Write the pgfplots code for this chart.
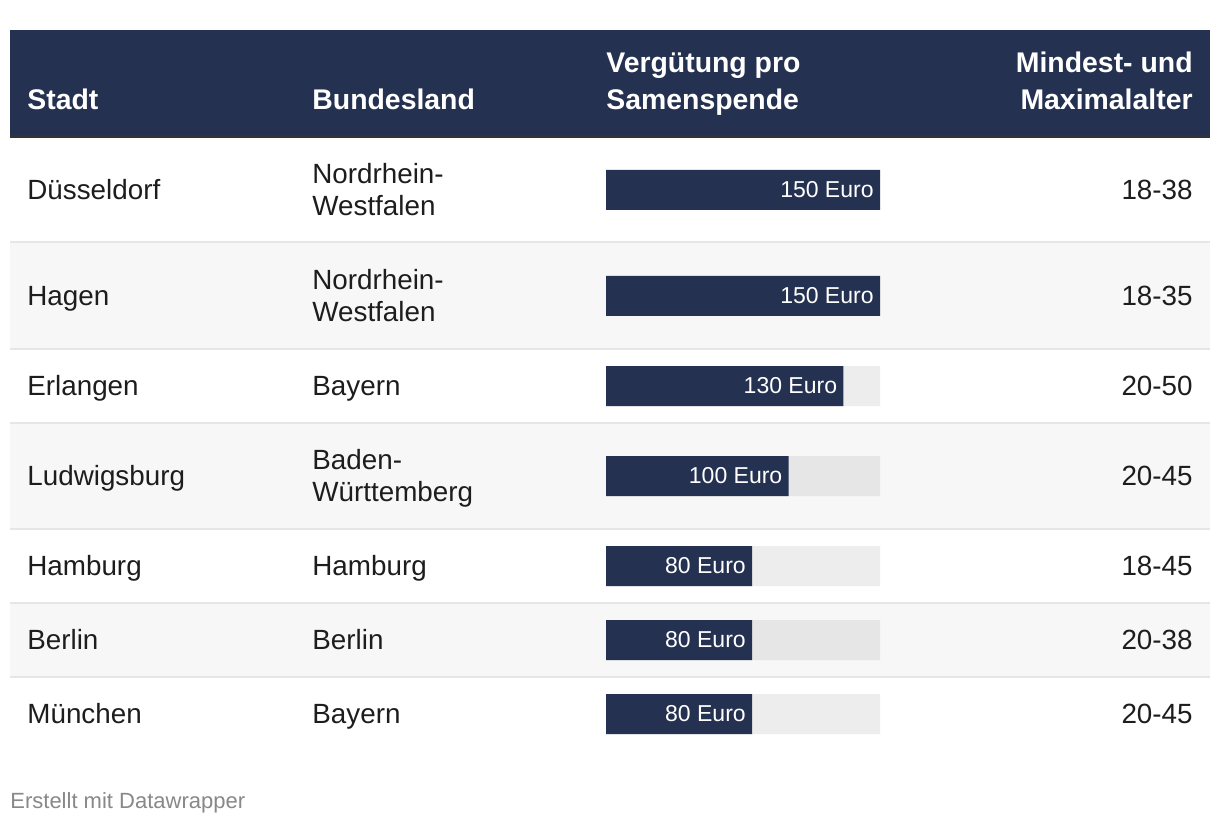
\documentclass[border=0pt]{standalone}
\usepackage{pgfplots}
\pgfplotsset{compat=1.18}
\usepackage{fontspec}
\setmainfont{Liberation Sans}
\definecolor{navy}{HTML}{243150}
\definecolor{sep}{HTML}{E6E6E6}
\definecolor{rowbg}{HTML}{F7F7F7}
\definecolor{trackw}{HTML}{EDEDED}
\definecolor{trackg}{HTML}{E6E6E6}
\definecolor{hdrline}{HTML}{333333}
\definecolor{txt}{HTML}{1D1D1D}
\definecolor{foot}{HTML}{888888}
\newcommand\bodyfont{\fontsize{13.9bp}{16bp}\selectfont}
\newcommand\headfont{\fontsize{14.2bp}{16bp}\selectfont\bfseries}
\newcommand\TL[3]{\node[anchor=base west, inner sep=0pt, text=txt, font=\bodyfont] at (axis cs:#1,#2) {#3};}
\newcommand\TR[3]{\node[anchor=base east, inner sep=0pt, text=txt, font=\bodyfont] at (axis cs:#1,#2) {#3};}
\newcommand\HL[3]{\node[anchor=base west, inner sep=0pt, text=white, font=\headfont] at (axis cs:#1,#2) {#3};}
\newcommand\HR[3]{\node[anchor=base east, inner sep=0pt, text=white, font=\headfont] at (axis cs:#1,#2) {#3};}
\newcommand\SEP[1]{\fill[sep] (axis cs:10,#1) rectangle (axis cs:1210,#1+2);}
\begin{document}
\begin{tikzpicture}
\begin{axis}[name=main, scale only axis, width=610bp, height=413bp,
  xmin=0, xmax=1220, ymin=0, ymax=826, y dir=reverse, hide axis, clip=false]
\fill[white] (axis cs:0,0) rectangle (axis cs:1220,826);
% header
\fill[navy] (axis cs:10,30) rectangle (axis cs:1210,136);
\fill[hdrline] (axis cs:10,135.5) rectangle (axis cs:1210,138.5);
% striped rows
\fill[rowbg] (axis cs:10,243) rectangle (axis cs:1210,349);
\fill[rowbg] (axis cs:10,423) rectangle (axis cs:1210,529);
\fill[rowbg] (axis cs:10,603) rectangle (axis cs:1210,677);
% separators
\SEP{241.5} \SEP{347.5} \SEP{421.5} \SEP{527.5} \SEP{601.5} \SEP{675.5}
% header text
\HL{27}{110}{Stadt}
\HL{312}{110}{Bundesland}
\HL{606}{73}{Vergütung pro}
\HL{606}{110}{Samenspende}
\HR{1193}{73}{Mindest- und}
\HR{1193}{110}{Maximalalter}
% rows
\TL{27}{199}{Düsseldorf}  \TL{312}{183}{Nordrhein-} \TL{312}{215}{Westfalen} \TR{1193}{199}{18-38}
\TL{27}{305}{Hagen}       \TL{312}{289}{Nordrhein-} \TL{312}{321}{Westfalen} \TR{1193}{305}{18-35}
\TL{27}{395}{Erlangen}    \TL{312}{395}{Bayern}     \TR{1193}{395}{20-50}
\TL{27}{485}{Ludwigsburg} \TL{312}{469}{Baden-}     \TL{312}{501}{Württemberg} \TR{1193}{485}{20-45}
\TL{27}{575}{Hamburg}     \TL{312}{575}{Hamburg}    \TR{1193}{575}{18-45}
\TL{27}{649}{Berlin}      \TL{312}{649}{Berlin}     \TR{1193}{649}{20-38}
\TL{27}{723}{München}     \TL{312}{723}{Bayern}     \TR{1193}{723}{20-45}
% footer
\node[anchor=base west, inner sep=0pt, text=foot, font=\fontsize{11bp}{13bp}\selectfont] at (axis cs:10,808) {Erstellt mit Datawrapper};
\end{axis}
\begin{axis}[at={(main.south west)}, anchor=south west, xshift=303bp,
  scale only axis, width=137bp, height=413bp,
  xmin=0, xmax=150, ymin=0, ymax=826, y dir=reverse, hide axis, clip=false]
\addplot[xbar, bar width=20bp, bar shift=0pt, fill=trackw, draw=none]
  coordinates {(150,386) (150,566) (150,714)};
\addplot[xbar, bar width=20bp, bar shift=0pt, fill=trackg, draw=none]
  coordinates {(150,476) (150,640)};
\addplot[xbar, bar width=20bp, bar shift=0pt, fill=navy, draw=none,
  point meta=explicit symbolic, nodes near coords,
  every node near coord/.append style={anchor=east, xshift=-3bp, inner sep=0pt, text=white, font=\fontsize{11.5bp}{13bp}\selectfont}]
  coordinates {(150,190) [150 Euro] (150,296) [150 Euro] (130,386) [130 Euro]
               (100,476) [100 Euro] (80,566) [80 Euro] (80,640) [80 Euro] (80,714) [80 Euro]};
\end{axis}
\end{tikzpicture}
\end{document}
